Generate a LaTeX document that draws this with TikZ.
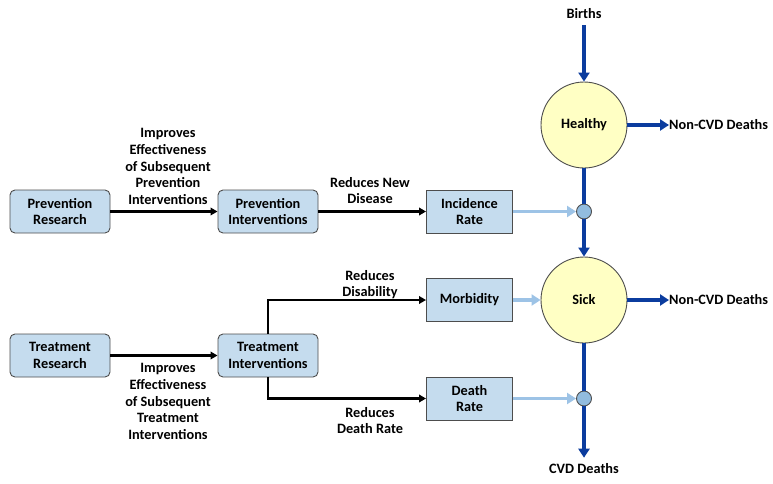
\documentclass[tikz,border=0pt]{standalone}
\usepackage{fontspec}
\setmainfont{Carlito}
\usetikzlibrary{arrows.meta}

\definecolor{boxblue}{HTML}{C5DCEE}
\definecolor{stockyellow}{HTML}{FFFFC4}
\definecolor{valveblue}{HTML}{92BCDF}
\definecolor{flowblue}{HTML}{0B3C9E}
\definecolor{infoblue}{HTML}{9DC3E6}
\definecolor{edgegray}{HTML}{4D4D4D}

\begin{document}
\begin{tikzpicture}[x=1pt, y=-1pt, font=\fontsize{14.3}{16.7}\selectfont\bfseries,
  rbox/.style={draw=edgegray, fill=boxblue, rounded corners=5pt, minimum width=100pt,
    minimum height=43pt, align=center, line width=0.9pt},
  sbox/.style={draw=edgegray, fill=boxblue, minimum width=86pt, minimum height=43pt,
    align=center, line width=0.9pt},
  stock/.style={circle, draw=edgegray, fill=stockyellow, minimum size=86pt,
    inner sep=0pt, line width=0.9pt},
  valve/.style={circle, draw=edgegray, fill=valveblue, minimum size=15pt,
    inner sep=0pt, line width=0.9pt},
  lbl/.style={align=center, inner sep=0pt},
  cause/.style={-{Triangle[length=7pt,width=7.5pt]}, line width=2.2pt},
  flow/.style={-{Triangle[length=9pt,width=11pt]}, flowblue, line width=3.2pt},
  info/.style={-{Triangle[length=9pt,width=11pt]}, infoblue, line width=3.2pt}]
  \useasboundingbox (0,0) rectangle (773,483);

  % Research and intervention boxes
  \node[rbox] (prevres) at (60,211.5) {Prevention\\Research};
  \node[rbox] (prevint) at (268,211.5) {Prevention\\Interventions};
  \node[rbox] (treatres) at (60,355.5) {Treatment\\Research};
  \node[rbox] (treatint) at (268,355.5) {Treatment\\Interventions};

  % Rate boxes
  \node[sbox] (incid) at (469.5,211.5) {Incidence\\Rate};
  \node[sbox] (morb) at (469.5,300) {Morbidity};
  \node[sbox] (deathrate) at (469.5,398.5) {Death\\Rate};

  % Stocks and valves
  \node[stock] (healthy) at (584,125) {Healthy};
  \node[stock] (sick) at (584,300) {Sick};
  \node[valve] (incvalve) at (584,211.5) {};
  \node[valve] (deathvalve) at (584,398.5) {};

  % Sources and sinks
  \node[lbl] (births) at (584,14) {Births};
  \node[lbl, anchor=west] (nonhealthy) at (669,125) {Non-CVD Deaths};
  \node[lbl, anchor=west] (nonsick) at (669,300) {Non-CVD Deaths};
  \node[lbl] (cvd) at (584,469) {CVD Deaths};

  % Population flows
  \draw[flow, shorten <=6pt] (births) -- (healthy);
  \draw[flow] (healthy) -- (nonhealthy);
  \draw[flowblue, line width=3.2pt] (healthy) -- (incvalve);
  \draw[flow] (incvalve) -- (sick);
  \draw[flow] (sick) -- (nonsick);
  \draw[flowblue, line width=3.2pt] (sick) -- (deathvalve);
  \draw[flow, shorten >=6pt] (deathvalve) -- (cvd);

  % Rates acting on flows
  \draw[info] (incid) -- (incvalve);
  \draw[info] (morb) -- (sick);
  \draw[info] (deathrate) -- (deathvalve);

  % Causal links
  \draw[cause] (prevres) -- (prevint);
  \draw[cause] (prevint) -- (incid);
  \draw[cause] (treatres) -- (treatint);
  \draw[cause] (treatint.north) |- (morb);
  \draw[cause] (treatint.south) |- (deathrate);

  % Link labels
  \node[lbl] (prevlbl) at (168,166.5) {Improves\\Effectiveness\\of Subsequent\\Prevention\\Interventions};
  \node[lbl] (newdislbl) at (370,190.5) {Reduces New\\Disease};
  \node[lbl] (treatlbl) at (168,401.5) {Improves\\Effectiveness\\of Subsequent\\Treatment\\Interventions};
  \node[lbl] (disablbl) at (370,284.5) {Reduces\\Disability};
  \node[lbl] (drlbl) at (370,420.5) {Reduces\\Death Rate};
\end{tikzpicture}
\end{document}
